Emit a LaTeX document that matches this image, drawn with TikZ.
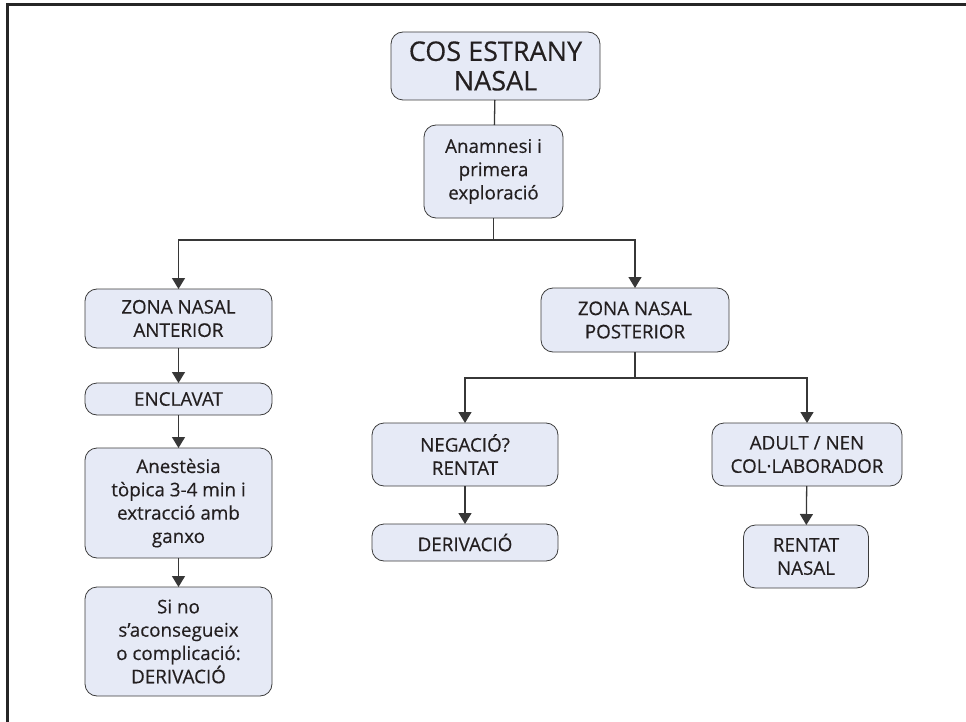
\documentclass[tikz,border=0pt]{standalone}
\usepackage{fontspec}
\setmainfont{Open Sans}
\newfontfamily\caixafont[FakeBold=0.35]{Open Sans}
\usepackage{tikz}
\usetikzlibrary{arrows,arrows.meta,shapes,positioning}
\definecolor{boxfill}{RGB}{230,234,246}
\definecolor{boxline}{RGB}{60,60,60}
\definecolor{wireline}{RGB}{55,55,55}
\definecolor{inktext}{RGB}{35,31,32}

\begin{document}
\begin{tikzpicture}[x=1pt,y=-1pt]
                    \tikzstyle{every node}+=[inner sep=0pt, outer sep=0pt]
                    \tikzstyle{caixa}=[draw=boxline, line width=0.8pt, fill=boxfill, rounded corners=12pt, align=center, text=inktext, font=\caixafont\fontsize{18.8}{23.3}\selectfont]
                    \tikzstyle{fil}=[draw=wireline, line width=1.3pt]
                    \tikzstyle{fletxa}=[fil, -{Triangle[width=13pt,length=11pt]}]
                    \useasboundingbox (0,0) rectangle (966,722);
                    \draw [line width=3pt, black!85] (966,5) -- (7,5) -- (7,722);
                    \node [caixa, minimum width=209pt, minimum height=68pt, font=\caixafont\fontsize{27}{29.5}\selectfont] (cos) at (495.5,66) {COS ESTRANY\\NASAL};
                    \node [caixa, minimum width=139pt, minimum height=93pt] (anam) at (493.5,171.5) {Anamnesi i\\primera\\exploració};
                    \node [caixa, minimum width=187pt, minimum height=59pt] (ant) at (178.5,318.5) {ZONA NASAL\\ANTERIOR};
                    \node [caixa, minimum width=187pt, minimum height=32pt] (encl) at (178.5,399) {ENCLAVAT};
                    \node [caixa, minimum width=187pt, minimum height=110pt] (anes) at (178.5,503) {Anestèsia\\tòpica 3-4 min i\\extracció amb\\ganxo};
                    \node [caixa, minimum width=187pt, minimum height=109pt] (sino) at (178.5,641.5) {Si no\\s’aconsegueix\\o complicació:\\DERIVACIÓ};
                    \node [caixa, minimum width=188pt, minimum height=64pt] (post) at (635,320) {ZONA NASAL\\POSTERIOR};
                    \node [caixa, minimum width=186pt, minimum height=63pt] (neg) at (465,454.5) {NEGACIÓ?\\RENTAT};
                    \node [caixa, minimum width=186pt, minimum height=37pt] (deriv) at (465,542.5) {DERIVACIÓ};
                    \node [caixa, minimum width=190pt, minimum height=63pt] (adult) at (807,454.5) {ADULT / NEN\\COL·LABORADOR};
                    \node [caixa, minimum width=125pt, minimum height=63pt] (rent) at (806,556.5) {RENTAT\\NASAL};
                    \coordinate (bif1) at (493.5,240);
                    \coordinate (bif2) at (635,378);
                    \draw [fil] (cos) -- (anam);
                    \draw [fil] (anam) -- (bif1);
                    \draw [fletxa] (bif1) -| (ant);
                    \draw [fletxa] (bif1) -| (post);
                    \draw [fletxa] (ant) -- (encl);
                    \draw [fletxa] (encl) -- (anes);
                    \draw [fletxa] (anes) -- (sino);
                    \draw [fil] (post) -- (bif2);
                    \draw [fletxa] (bif2) -| (neg);
                    \draw [fletxa] (bif2) -| (adult);
                    \draw [fletxa] (neg) -- (deriv);
                    \draw [fletxa] (adult) -- (rent);
                \end{tikzpicture}
\end{document}
